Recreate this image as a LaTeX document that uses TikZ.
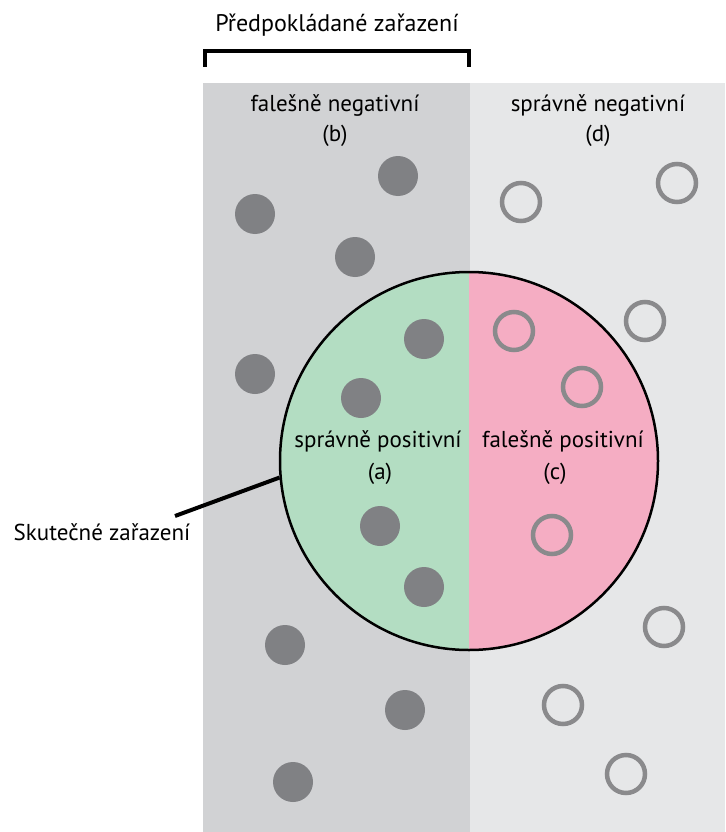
\documentclass[tikz,border=0pt]{standalone}
\usepackage{fontspec}
\setmainfont{PT Sans}
\definecolor{bgleft}{HTML}{D1D2D4}
\definecolor{bgright}{HTML}{E6E7E8}
\definecolor{tpgreen}{HTML}{B3DDC2}
\definecolor{fppink}{HTML}{F5ADC3}
\definecolor{dotgray}{HTML}{808184}
\definecolor{ringgray}{HTML}{8A8A8C}
\tikzset{
  fdot/.style={circle, fill=dotgray, minimum size=40pt, inner sep=0pt},
  odot/.style={circle, draw=ringgray, line width=4.5pt, minimum size=38pt, inner sep=0pt},
  title/.style={font=\fontsize{24}{28}\selectfont, anchor=base, inner sep=0pt},
  lbl/.style={font=\fontsize{23}{27}\selectfont, anchor=base, inner sep=0pt},
}
\begin{document}
\begin{tikzpicture}[x=1pt,y=1pt]
\useasboundingbox (0,0) rectangle (725,-832);
\fill[white] (0,0) rectangle (725,-832);
% backgrounds
\fill[bgleft] (203,-83) rectangle (470,-832);
\fill[bgright] (470,-83) rectangle (725,-832);
% bracket and title
\node[title] (pred) at (337,-32) {Předpokládané zařazení};
\coordinate (bl) at (205,-67);
\coordinate (br) at (468.5,-67);
\draw[line width=4pt] (bl) -- (205,-51.5) -- (468.5,-51.5) -- (br);
% circle halves
\fill[tpgreen] (469,-272) arc[start angle=90, end angle=270, radius=189pt] -- cycle;
\fill[fppink] (469,-650) arc[start angle=270, end angle=450, radius=189pt] -- cycle;
\node[circle, draw, line width=2.5pt, minimum size=378pt, inner sep=0pt] (circ) at (469,-461) {};
% labels
\node[lbl] (fn) at (335,-112) {falešně negativní};
\node[lbl] (fnb) at (335,-141) {(b)};
\node[lbl] (sn) at (598,-112) {správně negativní};
\node[lbl] (snd) at (598,-141) {(d)};
\node[lbl] (sp) at (378,-447) {správně positivní};
\node[lbl] (spa) at (380,-479) {(a)};
\node[lbl] (fp) at (563,-447) {falešně positivní};
\node[lbl] (fpc) at (555,-479) {(c)};
\node[lbl] (sk) at (102,-540) {Skutečné zařazení};
\coordinate (skend) at (175,-516);
\draw[line width=4pt] (skend) -- (circ.185);
% filled dots
\node[fdot] (f1) at (398,-176) {};
\node[fdot] (f2) at (255,-214) {};
\node[fdot] (f3) at (355,-257) {};
\node[fdot] (f4) at (255,-374) {};
\node[fdot] (f5) at (424,-339) {};
\node[fdot] (f6) at (361,-398) {};
\node[fdot] (f7) at (380,-526) {};
\node[fdot] (f8) at (424,-587) {};
\node[fdot] (f9) at (285,-645) {};
\node[fdot] (f10) at (405,-710) {};
\node[fdot] (f11) at (293,-782) {};
% open rings
\node[odot] (o1) at (521,-202) {};
\node[odot] (o2) at (677,-183) {};
\node[odot] (o3) at (645,-321) {};
\node[odot] (o4) at (514,-331) {};
\node[odot] (o5) at (582,-387) {};
\node[odot] (o6) at (552,-535) {};
\node[odot] (o7) at (664,-627) {};
\node[odot] (o8) at (563,-705) {};
\node[odot] (o9) at (626,-774) {};
\end{tikzpicture}
\end{document}
